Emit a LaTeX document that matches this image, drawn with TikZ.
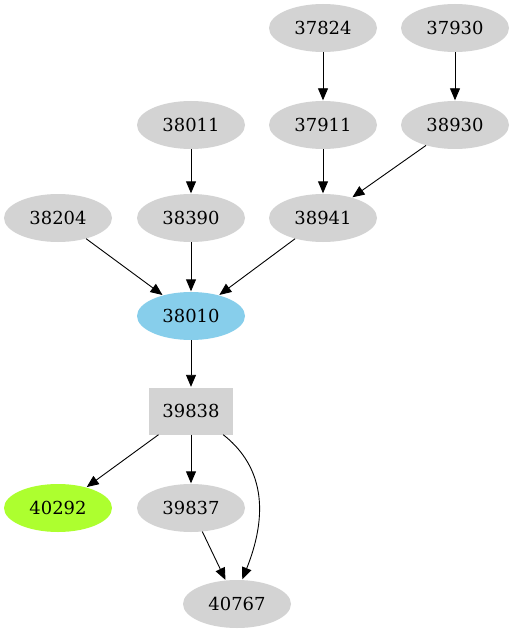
\documentclass[tikz,border=0pt]{standalone}
\usepackage{fontspec}
\setmainfont{DejaVu Serif}
\usetikzlibrary{shapes.geometric,arrows.meta}
\definecolor{lgray}{HTML}{D3D3D3}
\definecolor{skyb}{HTML}{87CEEB}
\definecolor{gyel}{HTML}{ADFF2F}
\begin{document}
\begin{tikzpicture}[x=1bp,y=-1bp,
  nd/.style={ellipse,fill=lgray,minimum width=108bp,minimum height=48bp,inner sep=0pt,font=\fontsize{18}{20}\selectfont},
  bx/.style={rectangle,fill=lgray,minimum width=84bp,minimum height=47bp,inner sep=0pt,font=\fontsize{18}{20}\selectfont},
  ar/.style={-{Triangle[length=12bp,width=10bp]},line width=0.9bp,shorten >=0.5bp}]
\useasboundingbox (0,0) rectangle (514,635);
\node[nd] (a37824) at (323,28) {37824};
\node[nd] (a37930) at (455,28) {37930};
\node[nd] (a38011) at (191,125) {38011};
\node[nd] (a37911) at (323,125) {37911};
\node[nd] (a38930) at (455,125) {38930};
\node[nd] (a38204) at (58,218) {38204};
\node[nd] (a38390) at (191,218) {38390};
\node[nd] (a38941) at (323,218) {38941};
\node[nd,fill=skyb] (a38010) at (191,316) {38010};
\node[bx] (a39838) at (191,411) {39838};
\node[nd,fill=gyel] (a40292) at (58,508) {40292};
\node[nd] (a39837) at (191,508) {39837};
\node[nd] (a40767) at (237,604) {40767};
\draw[ar] (a37824) -- (a37911);
\draw[ar] (a37930) -- (a38930);
\draw[ar] (a38011) -- (a38390);
\draw[ar] (a37911) -- (a38941);
\draw[ar] (a38930) -- (a38941);
\draw[ar] (a38204) -- (a38010);
\draw[ar] (a38390) -- (a38010);
\draw[ar] (a38941) -- (a38010);
\draw[ar] (a38010) -- (a39838);
\draw[ar] (a39838) -- (a40292);
\draw[ar] (a39838) -- (a39837);
\draw[ar] (a39837) -- (a40767);
\draw[ar] ([xshift=-10bp]a39838.south east) .. controls (258,462) and (272,505) .. (a40767.78);
\end{tikzpicture}
\end{document}
